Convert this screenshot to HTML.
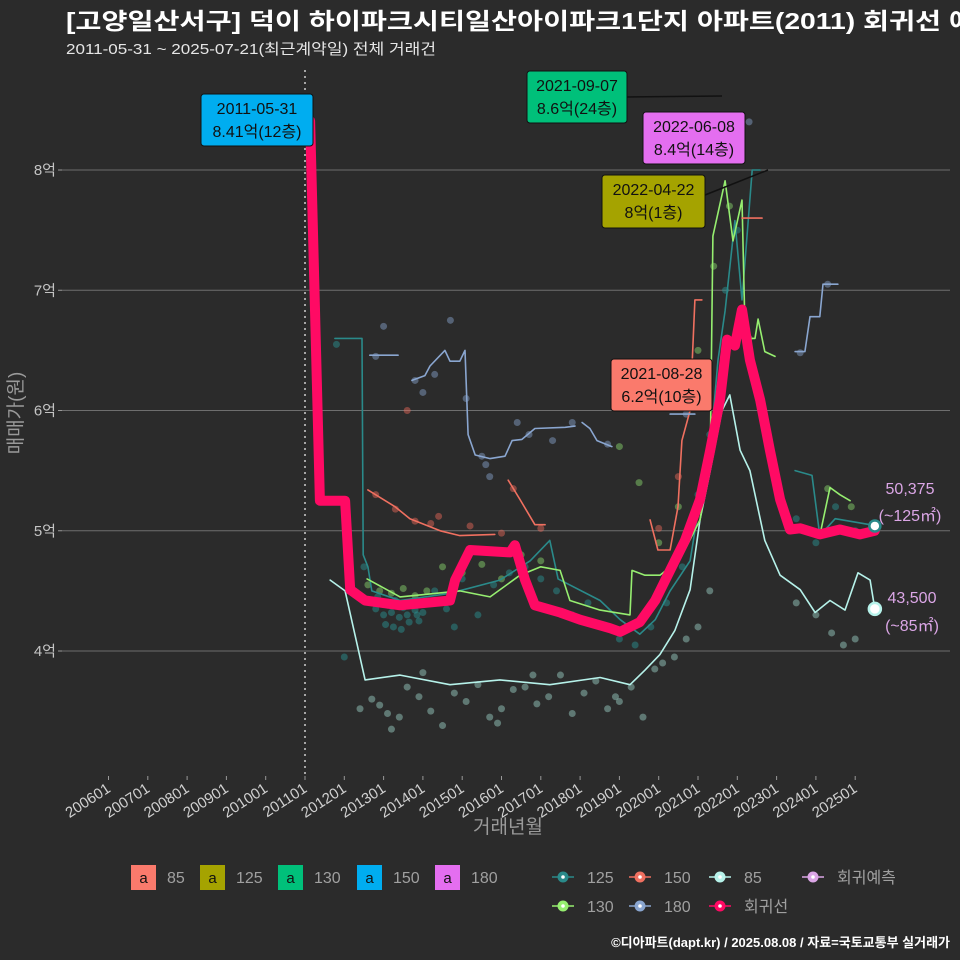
<!DOCTYPE html>
<html><head><meta charset="utf-8">
<style>
html,body{margin:0;padding:0;background:#2b2b2b;}
svg{display:block;font-family:"Liberation Sans","Noto Sans CJK KR",sans-serif;}
</style></head>
<body>
<svg id="chart" width="960" height="960" viewBox="0 0 960 960">
<rect x="0" y="0" width="960" height="960" fill="#2b2b2b"/>
<text x="66" y="29" fill="#ffffff" font-size="23" font-weight="bold" textLength="935" lengthAdjust="spacingAndGlyphs">[고양일산서구] 덕이 하이파크시티일산아이파크1단지 아파트(2011) 회귀선 예측</text>
<text x="66" y="54" fill="#e6e6e6" font-size="15" textLength="370" lengthAdjust="spacingAndGlyphs">2011-05-31 ~ 2025-07-21(최근계약일) 전체 거래건</text>
<g id="grid"></g>
<g id="axes"></g>
<g id="marks"></g>
<g id="annot"></g>
<text transform="translate(22,413) rotate(-90)" text-anchor="middle" fill="#9a9a9a" font-size="19">매매가(원)</text>
<text x="508" y="833" text-anchor="middle" fill="#9a9a9a" font-size="19">거래년월</text>
<g id="legend"></g>
<text x="950" y="947" text-anchor="end" fill="#ffffff" font-size="13" font-weight="bold">©디아파트(dapt.kr) / 2025.08.08 / 자료=국토교통부 실거래가</text>
</svg>
<script>
// ---- data ----
const yTicks = [4, 5, 6, 7, 8];
const yTickLabels = ["4억", "5억", "6억", "7억", "8억"];
const xTicks = [2006,2007,2008,2009,2010,2011,2012,2013,2014,2015,2016,2017,2018,2019,2020,2021,2022,2023,2024,2025];
const xTickLabels = ["200601","200701","200801","200901","201001","201101","201201","201301","201401","201501","201601","201701","201801","201901","202001","202101","202201","202301","202401","202501"];

const regT = [2011.13,2011.25,2011.38,2012.02,2012.15,2012.53,2013.42,2014.69,2014.82,2015.2,2016.22,2016.34,2016.6,2016.85,2017.49,2018.0,2018.76,2019.02,2019.52,2019.91,2020.29,2020.67,2021.05,2021.31,2021.56,2021.74,2021.94,2022.12,2022.32,2022.58,2022.83,2023.09,2023.34,2023.6,2024.1,2024.61,2025.12,2025.5];
const regV = [8.41,6.9,5.25,5.25,4.51,4.42,4.38,4.42,4.59,4.84,4.82,4.88,4.59,4.38,4.32,4.26,4.19,4.16,4.24,4.42,4.67,4.92,5.26,5.67,6.09,6.59,6.54,6.84,6.42,6.09,5.67,5.26,5.01,5.02,4.97,5.01,4.97,5.0];

const s85T = [2011.64,2012.02,2012.53,2013.42,2014.69,2015.96,2017.23,2018.51,2019.27,2019.65,2020.03,2020.41,2020.8,2021.05,2021.31,2021.61,2021.81,2022.07,2022.32,2022.7,2023.09,2023.6,2023.98,2024.36,2024.74,2025.07,2025.38,2025.5];
const s85V = [4.59,4.5,3.76,3.8,3.72,3.76,3.72,3.78,3.72,3.84,3.97,4.17,4.51,5.09,5.5,6.0,6.13,5.67,5.5,4.92,4.63,4.51,4.32,4.42,4.34,4.65,4.59,4.35];

const s125T = [2011.76,2012.45,2012.48,2012.6,2012.7,2013.42,2014.69,2015.96,2016.73,2017.23,2017.44,2018.51,2019.02,2019.52,2019.91,2020.29,2020.8,2021.05,2021.31,2021.51,2021.69,2021.94,2022.12,2022.38,2022.58,null,2023.47,2023.9,2024.1,2024.49,2025.38];
const s125V = [6.6,6.6,4.8,4.7,4.5,4.42,4.48,4.59,4.75,4.92,4.6,4.42,4.26,4.14,4.26,4.5,4.75,5.26,5.67,6.42,6.83,7.58,6.92,8.0,8.0,null,5.5,5.46,4.96,5.1,5.05];

const s130T = [2012.58,2013.42,2014.94,2015.71,2016.47,2017.0,null,2017.0,2017.49,2017.74,2018.51,2019.27,2019.32,2019.65,2020.03,2020.54,2021.05,2021.31,2021.38,2021.69,2021.89,2022.12,2022.2,2022.45,2022.53,2022.7,2022.96,null,2024.1,2024.36,2024.61,2024.87];
const s130V = [4.6,4.45,4.5,4.45,4.63,4.7,null,4.7,4.67,4.42,4.34,4.3,4.67,4.63,4.63,4.76,5.09,5.59,7.45,7.91,7.41,7.75,6.6,6.6,6.76,6.49,6.45,null,4.96,5.36,5.3,5.25];

const s150T = [2012.6,2013.29,2013.67,2014.44,2014.94,2015.83,null,2016.17,2016.47,2016.85,2017.11,null,2019.78,2019.98,2020.29,2020.49,2020.59,2020.8,2020.92,2021.1,null,2022.12,2022.63];
const s150V = [5.34,5.2,5.1,5.0,4.96,4.97,null,5.42,5.26,5.05,5.05,null,5.09,4.84,4.84,5.2,5.75,6.0,6.92,6.92,null,7.6,7.6];

const s180T = [2012.65,2013.37,null,2013.72,2014.05,2014.18,2014.56,2014.69,2014.94,2015.07,2015.15,2015.33,2015.71,2016.09,2016.27,2016.52,2016.85,2017.62,2017.87,null,2018.05,2018.25,2018.43,2018.81,null,2020.29,2020.92,null,2023.47,2023.72,2023.85,2024.1,2024.18,2024.56];
const s180V = [6.46,6.46,null,6.25,6.29,6.37,6.5,6.41,6.41,6.5,5.8,5.63,5.6,5.62,5.75,5.76,5.85,5.86,5.87,null,5.9,5.85,5.75,5.7,null,5.97,5.97,null,6.49,6.49,6.78,6.78,7.05,7.05];

// scatter points
const p85T = [2012.4,2012.7,2012.9,2013.1,2013.4,2013.6,2013.9,2014.2,2014.5,2014.8,2015.1,2015.4,2015.7,2016.0,2016.3,2016.6,2016.9,2017.2,2017.5,2017.8,2018.1,2018.4,2018.7,2019.0,2019.3,2019.6,2019.9,2020.1,2020.4,2020.7,2021.0,2021.3,2023.5,2024.0,2024.4,2024.7,2025.0,2013.2,2014.0,2015.9,2016.8,2018.9];
const p85V = [3.52,3.6,3.55,3.48,3.45,3.7,3.62,3.5,3.38,3.65,3.58,3.72,3.45,3.52,3.68,3.7,3.56,3.62,3.8,3.48,3.65,3.75,3.52,3.58,3.7,3.45,3.85,3.9,3.95,4.1,4.2,4.5,4.4,4.3,4.15,4.05,4.1,3.35,3.82,3.4,3.8,3.62];
const p125T = [2011.8,2012.5,2012.8,2012.9,2013.0,2013.1,2013.2,2013.3,2013.4,2013.5,2013.6,2013.7,2013.8,2013.9,2014.0,2012.85,2013.05,2013.25,2013.45,2013.65,2013.85,2014.3,2014.6,2015.0,2015.4,2015.8,2016.2,2016.6,2017.0,2017.4,2017.8,2018.2,2018.6,2019.0,2019.4,2019.8,2020.2,2020.6,2021.0,2021.3,2021.7,2022.0,2023.5,2024.0,2024.5,2025.0,2012.0,2014.8];
const p125V = [6.55,4.7,4.35,4.4,4.3,4.38,4.32,4.42,4.28,4.36,4.3,4.4,4.34,4.25,4.32,4.45,4.22,4.2,4.18,4.24,4.3,4.5,4.35,4.6,4.3,4.55,4.65,4.7,4.6,4.5,4.3,4.4,4.2,4.1,4.05,4.2,4.4,4.7,5.3,5.8,7.0,7.5,5.1,4.9,5.2,5.0,3.95,4.2];
const p130T = [2012.6,2012.9,2013.2,2013.5,2013.8,2014.1,2014.5,2015.0,2015.5,2016.0,2016.5,2017.0,2019.0,2019.5,2020.0,2020.5,2021.0,2021.4,2021.8,2022.3,2024.3,2024.9];
const p130V = [4.55,4.5,4.48,4.52,4.46,4.5,4.7,4.65,4.72,4.6,4.8,4.75,5.7,5.4,4.9,5.2,6.5,7.2,7.7,6.6,5.35,5.2];
const p150T = [2012.8,2013.3,2013.8,2014.2,2014.4,2015.2,2016.0,2016.3,2017.0,2020.0,2020.5,2020.9,2013.6];
const p150V = [5.3,5.18,5.08,5.06,5.12,5.04,4.98,5.35,5.02,5.02,5.45,6.2,6.0];
const p180T = [2012.8,2013.0,2013.8,2014.0,2014.3,2014.7,2015.1,2015.5,2015.6,2015.7,2016.4,2016.7,2017.3,2017.8,2018.7,2020.7,2022.3,2023.6,2024.3];
const p180V = [6.45,6.7,6.25,6.15,6.3,6.75,6.1,5.62,5.55,5.45,5.9,5.8,5.75,5.9,5.72,5.97,8.4,6.48,7.05];

// ---- scales ----
const X0 = 305, XPY = 39.3, Y0 = 651, YPU = 120.25;
function xs(t){ return X0 + (t - 2011) * XPY; }
function ys(v){ return Y0 - (v - 4) * YPU; }
const NS = "http://www.w3.org/2000/svg";
function mk(tag, attrs, parent){
  const e = document.createElementNS(NS, tag);
  for (const k in attrs) e.setAttribute(k, attrs[k]);
  parent.appendChild(e);
  return e;
}
const grid = document.getElementById('grid');
const axes = document.getElementById('axes');
const marks = document.getElementById('marks');

yTicks.forEach((v, i) => {
  const l = mk('line', {x1: 62, x2: 950, y1: ys(v), y2: ys(v), stroke: '#6e6e6e', 'stroke-width': 1}, grid);
  
  
  const tk = mk('line', {x1: 58, x2: 62, y1: ys(v), y2: ys(v), stroke: '#999', 'stroke-width': 1}, axes);
  
  
  const t = mk('text', {x: 56, y: ys(v) + 5, 'text-anchor': 'end', fill: '#c4c4c4', 'font-size': 15}, axes);
  t.textContent = yTickLabels[i];
  
  
});
xTicks.forEach((yr, i) => {
  const x = xs(yr);
  const tk = mk('line', {x1: x, x2: x, y1: 776, y2: 780, stroke: '#999', 'stroke-width': 1}, axes);
  
  
  const t = mk('text', {x: x + 3, y: 791, 'text-anchor': 'end', fill: '#d0d0d0', 'font-size': 15, transform: `rotate(-33 ${x + 3} 791)`}, axes);
  t.textContent = xTickLabels[i];
  
  
});
const vl = mk('line', {x1: 305, x2: 305, y1: 70, y2: 776, stroke: '#cfcfcf', 'stroke-width': 1.5, 'stroke-dasharray': '2 4'}, grid);



function scatter(T, V, color, name){
  T.forEach((t, i) => {
    const c = mk('circle', {cx: xs(t), cy: ys(V[i]), r: 3.5, fill: color, 'fill-opacity': 0.45}, marks);
    
    
  });
}
function pathOf(T, V){
  let d = '', pen = false;
  T.forEach((t, i) => {
    if (t === null || V[i] === null){ pen = false; return; }
    d += (pen ? 'L' : 'M') + xs(t).toFixed(1) + ' ' + ys(V[i]).toFixed(1);
    pen = true;
  });
  return d;
}
function line(T, V, color, w, name){
  const p = mk('path', {d: pathOf(T, V), fill: 'none', stroke: color, 'stroke-width': w, 'stroke-linejoin': 'round', 'stroke-linecap': 'round'}, marks);
  
  
}
scatter(p85T, p85V, '#9fd8cc', 'point-85');
scatter(p125T, p125V, '#2a9a98', 'point-125');
scatter(p130T, p130V, '#8fe070', 'point-130');
scatter(p150T, p150V, '#f06a5a', 'point-150');
scatter(p180T, p180V, '#8aa6d0', 'point-180');
line(s85T, s85V, '#b6f2ea', 1.6, 'line-85');
line(s125T, s125V, '#2a8a8a', 1.6, 'line-125');
line(s130T, s130V, '#96ee70', 1.6, 'line-130');
line(s150T, s150V, '#f07060', 1.6, 'line-150');
line(s180T, s180V, '#8aa6d0', 1.6, 'line-180');
line(regT, regV, '#ff0a64', 10, 'regression-line');

const e1 = mk('circle', {cx: xs(2025.5), cy: ys(5.04), r: 5.5, fill: '#ffffff', stroke: '#2a8a8a', 'stroke-width': 2.5}, marks);


const e2 = mk('circle', {cx: xs(2025.5), cy: ys(4.35), r: 6, fill: '#ffffff', stroke: '#b6f2ea', 'stroke-width': 2.5}, marks);


</script>
<script>
const annot = document.getElementById('annot');
function label(x, y, w, h, bg, l1, l2, name){
  const g = document.createElementNS(NS, 'g');
  
  
  annot.appendChild(g);
  mk('rect', {x: x, y: y, width: w, height: h, rx: 3, fill: bg, stroke: '#111', 'stroke-width': 1}, g);
  const t1 = mk('text', {x: x + w / 2, y: y + 20, 'text-anchor': 'middle', fill: '#111', 'font-size': 16}, g);
  t1.textContent = l1;
  const t2 = mk('text', {x: x + w / 2, y: y + 43, 'text-anchor': 'middle', fill: '#111', 'font-size': 16}, g);
  t2.textContent = l2;
}
function conn(x1, y1, x2, y2){
  const l = mk('line', {x1: x1, y1: y1, x2: x2, y2: y2, stroke: '#111', 'stroke-width': 1.5}, annot);
  
  
}
conn(627, 97, 722, 96);
conn(705, 195, 768, 170);
label(527, 71, 100, 52, '#00c07a', '2021-09-07', '8.6억(24층)', 'label-2021-09-07');
label(643, 112, 102, 52, '#e46ef0', '2022-06-08', '8.4억(14층)', 'label-2022-06-08');
label(602, 175, 103, 53, '#a5a300', '2022-04-22', '8억(1층)', 'label-2022-04-22');
label(201, 94, 112, 52, '#00adf0', '2011-05-31', '8.41억(12층)', 'label-2011-05-31');
label(611, 359, 101, 52, '#fa7a6c', '2021-08-28', '6.2억(10층)', 'label-2021-08-28');

function rtext(x, y, s, name){
  const t = mk('text', {x: x, y: y, 'text-anchor': 'middle', fill: '#dba6e6', 'font-size': 16}, annot);
  t.textContent = s;
  
  
}
rtext(910, 494, '50,375', 'forecast-value-125');
rtext(910, 521, '(~125㎡)', 'forecast-area-125');
rtext(912, 603, '43,500', 'forecast-value-85');
rtext(912, 631, '(~85㎡)', 'forecast-area-85');

// legend
const leg = document.getElementById('legend');
const boxItems = [['85', '#fa7a6c', 131], ['125', '#a5a300', 200], ['130', '#00c07a', 278], ['150', '#00adf0', 357], ['180', '#e46ef0', 435]];
boxItems.forEach(b => {
  const g = document.createElementNS(NS, 'g');
  
  
  leg.appendChild(g);
  mk('rect', {x: b[2], y: 865, width: 25, height: 25, fill: b[1]}, g);
  const a = mk('text', {x: b[2] + 12.5, y: 883, 'text-anchor': 'middle', fill: '#111', 'font-size': 15}, g);
  a.textContent = 'a';
  const t = mk('text', {x: b[2] + 36, y: 883, fill: '#a0a0a0', 'font-size': 16}, g);
  t.textContent = b[0];
});
const lineItems = [['125', '#2a8a8a', 563, 877], ['150', '#f07060', 640, 877], ['85', '#b6f2ea', 720, 877], ['회귀예측', '#dba6e6', 813, 877], ['130', '#96ee70', 563, 906], ['180', '#8aa6d0', 640, 906], ['회귀선', '#ff0a64', 720, 906]];
lineItems.forEach(it => {
  const g = document.createElementNS(NS, 'g');
  
  
  leg.appendChild(g);
  mk('line', {x1: it[2] - 11, x2: it[2] + 11, y1: it[3], y2: it[3], stroke: it[1], 'stroke-width': 1.6}, g);
  mk('circle', {cx: it[2], cy: it[3], r: 5.5, fill: it[1]}, g);
  mk('circle', {cx: it[2], cy: it[3], r: 1.8, fill: '#ffffff'}, g);
  const t = mk('text', {x: it[2] + 24, y: it[3] + 6, fill: '#a0a0a0', 'font-size': 16}, g);
  t.textContent = it[0];
});
</script>
</body></html>
